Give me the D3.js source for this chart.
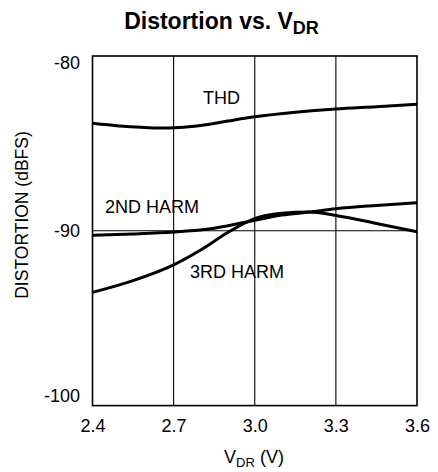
<!DOCTYPE html>
<html><head><meta charset="utf-8">
<script src="https://cdn.jsdelivr.net/npm/d3@7"></script>
<style>
html,body{margin:0;padding:0;background:#fff;}
svg{display:block;font-family:"Liberation Sans",Arial,Helvetica,sans-serif;}
</style></head>
<body>
<script>
const xTicks = [2.4, 2.7, 3.0, 3.3, 3.6];
const yTicks = [-80, -90, -100];
const thdV   = [2.4, 2.5, 2.58, 2.65, 2.72, 2.8, 2.9, 3.0, 3.15, 3.3, 3.45, 3.6];
const thdD   = [-83.85, -84.0, -84.08, -84.12, -84.09, -83.97, -83.72, -83.48, -83.22, -83.03, -82.9, -82.76];
const h2V    = [2.4, 2.55, 2.7, 2.85, 3.0, 3.1, 3.2, 3.3, 3.45, 3.6];
const h2D    = [-90.25, -90.18, -90.07, -89.85, -89.4, -89.1, -88.93, -88.74, -88.55, -88.39];
const h3V    = [2.4, 2.55, 2.7, 2.8, 2.9, 2.97, 3.0, 3.1, 3.2, 3.3, 3.45, 3.6];
const h3D    = [-93.52, -92.85, -91.95, -91.1, -90.1, -89.5, -89.3, -89.0, -88.92, -89.12, -89.58, -90.05];
const seriesLabels = ["THD", "2ND HARM", "3RD HARM"];

const W = 438, H = 472;
const L = 92.5, R = 417, T = 56, B = 405.6;
const FONT = "Liberation Sans, Arial, sans-serif";
const svg = d3.select("body").append("svg").attr("width", W).attr("height", H);
const x = d3.scaleLinear().domain([2.4, 3.6]).range([L, R]);
const y = d3.scaleLinear().domain([-100, -80]).range([B, T]);

// vertical grid lines
svg.append("g").selectAll("line").data(xTicks.slice(1, -1)).join("line")
  .attr("x1", d => x(d)).attr("x2", d => x(d)).attr("y1", T).attr("y2", B)
  .attr("stroke", "#000").attr("stroke-width", 1.1);
// horizontal grid at -90
svg.append("line").attr("x1", L).attr("x2", R).attr("y1", y(-90)).attr("y2", y(-90))
  .attr("stroke", "#000").attr("stroke-width", 1.1);

// frame
svg.append("rect").attr("x", L).attr("y", T).attr("width", R - L).attr("height", B - T)
  .attr("fill", "none").attr("stroke", "#000").attr("stroke-width", 1.6);

// axes (labels only)
const xAxis = svg.append("g").attr("transform", `translate(0,${B})`)
  .call(d3.axisBottom(x).tickValues(xTicks).tickSize(0).tickPadding(0).tickFormat(d3.format(".1f")));
xAxis.select(".domain").remove();
xAxis.selectAll("text").attr("y", 26.5).attr("dy", 0).attr("font-size", 18)
  .attr("font-family", FONT).attr("fill", "#000");

const yOff = {"-80": 6, "-90": -1, "-100": -10};
const yAxis = svg.append("g").attr("transform", `translate(${L},0)`)
  .call(d3.axisLeft(y).tickValues(yTicks).tickSize(0).tickPadding(0).tickFormat(d => String(d)));
yAxis.select(".domain").remove();
yAxis.selectAll("text").attr("x", -12.5).attr("dy", "0.35em").attr("font-size", 18)
  .attr("font-family", FONT).attr("fill", "#000")
  .attr("transform", d => `translate(0,${yOff[d]})`);

// curves
const line = d3.line().x(d => x(d[0])).y(d => y(d[1])).curve(d3.curveMonotoneX);
const series = [d3.zip(thdV, thdD), d3.zip(h2V, h2D), d3.zip(h3V, h3D)];
svg.append("g").selectAll("path").data(series).join("path")
  .attr("d", line).attr("fill", "none").attr("stroke", "#000").attr("stroke-width", 3)
  .attr("stroke-linejoin", "round");

// series labels
const labPos = [[203, 104], [105, 213], [190, 278]];
svg.append("g").selectAll("text").data(seriesLabels).join("text")
  .attr("x", (d, i) => labPos[i][0]).attr("y", (d, i) => labPos[i][1])
  .attr("font-size", 18).attr("fill", "#000").text(d => d);

// title
const title = svg.append("text").attr("x", 221.5).attr("y", 28.5).attr("text-anchor", "middle")
  .attr("font-size", 23).attr("font-weight", "bold");
title.append("tspan").text("Distortion vs. V");
title.append("tspan").attr("font-size", 18).attr("dy", 5).text("DR");

// x title
const xt = svg.append("text").attr("x", 254).attr("y", 462.5).attr("text-anchor", "middle")
  .attr("font-size", 18);
xt.append("tspan").text("V");
xt.append("tspan").attr("font-size", 13).attr("dy", 4).text("DR");
xt.append("tspan").attr("dy", -4).text(" (V)");

// y title
svg.append("text").attr("transform", "translate(28.3,215) rotate(-90)")
  .attr("text-anchor", "middle").attr("font-size", 17.5).text("DISTORTION (dBFS)");
</script>
</body></html>
